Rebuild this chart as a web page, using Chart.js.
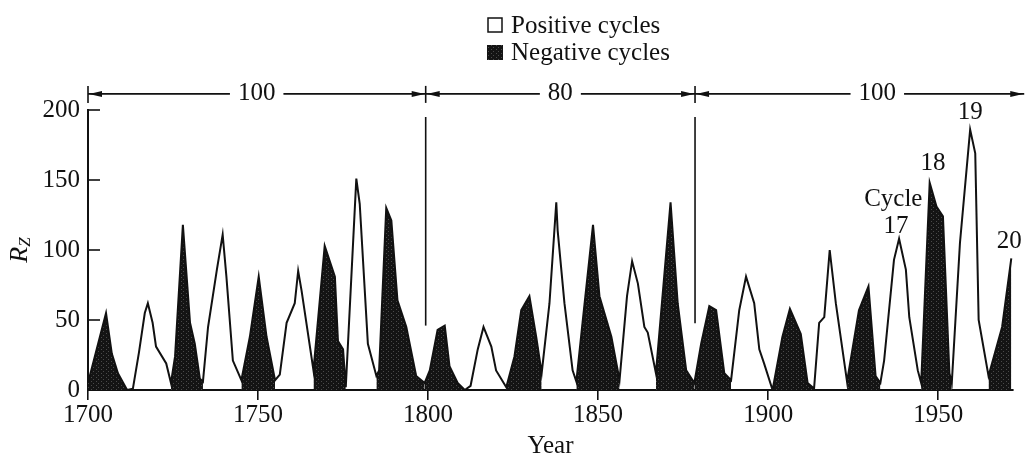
<!DOCTYPE html>
<html>
<head>
<meta charset="utf-8">
<script src="https://cdn.jsdelivr.net/npm/chart.js@4.4.1/dist/chart.umd.min.js"></script>
<style>
  html, body { margin: 0; padding: 0; background: #fff; }
  #wrap { position: relative; width: 1030px; height: 461px; }
</style>
</head>
<body>
<div id="wrap"><canvas id="rzChart"></canvas></div>
<script>
// Sunspot number Rz, traced vertex by vertex (fractional years at turning points)
const years = [
  1700, 1705.3, 1707, 1708.8, 1711.5, 1713.2, 1715, 1716.7, 1717.6, 1719, 1720, 1723,
  1724.4, 1725.6, 1727.9, 1730, 1731.4, 1732.9, 1733.8, 1735.3, 1737.9, 1739.6, 1740.7,
  1742.6, 1745.1, 1747.6, 1750.2, 1752.5, 1755, 1756.4, 1758.4, 1760.8, 1761.8, 1762.8,
  1766.3, 1769.6, 1772.6, 1773.5, 1775, 1775.8, 1778.9, 1779.9, 1782.3, 1784.8, 1785.6,
  1787.7, 1789.2, 1791, 1793.6, 1796.5, 1799, 1800.5, 1802.8, 1804.9, 1806.3, 1808.7,
  1810.8, 1812.5, 1814.6, 1816.3, 1818.6, 1820, 1823, 1825.4, 1827.4, 1829.8, 1831.8,
  1833.4, 1835.7, 1837.7, 1838.1, 1840.1, 1842.5, 1843.6, 1845.5, 1848.5, 1850.4, 1853.9,
  1856.3, 1858.5, 1860, 1861.7, 1863.6, 1864.6, 1867, 1871.3, 1873.4, 1875.9, 1878.3,
  1880.3, 1882.7, 1884.7, 1887.1, 1889.1, 1891.5, 1893.5, 1895.9, 1897.4, 1898.8, 1901.3,
  1904.2, 1906.4, 1909.6, 1911.6, 1913.5, 1915, 1916.5, 1918.1, 1919.9, 1923.2, 1926.7,
  1929.5, 1931.6, 1933, 1934.1, 1937, 1938.5, 1940.5, 1941.5, 1944, 1945, 1947.5, 1949.5,
  1951.4, 1953.3, 1954, 1956.4, 1959.4, 1960.9, 1961.9, 1964.8, 1968.8, 1971.5
];
const rz = [
  5, 55, 26, 12, 0, 1, 27, 55, 62, 48, 31, 19,
  5, 24, 118, 48, 33, 8, 6, 45, 86, 111, 81,
  21, 7, 38, 81, 38, 7, 11, 48, 62, 85, 71,
  14, 103, 81, 35, 29, 2, 151, 133, 33, 10, 14,
  130, 121, 64, 45, 10, 5, 14, 43, 46, 17, 5,
  0, 3, 29, 45, 31, 14, 2, 24, 57, 67, 38,
  12, 62, 134, 114, 62, 14, 6, 50, 118, 67, 38,
  7, 67, 92, 76, 45, 41, 12, 134, 62, 14, 5,
  33, 60, 57, 12, 7, 57, 81, 62, 29, 19, 0,
  38, 58, 40, 5, 1, 48, 52, 100, 62, 6, 57,
  74, 10, 5, 21, 93, 108, 86, 52, 14, 5, 148, 131,
  124, 12, 5, 105, 186, 169, 50, 10, 45, 94
];

// Negative (shaded) cycles, minimum to minimum
const negativeCycles = [
  [1700, 1711.5], [1724.4, 1733.8], [1745.1, 1755], [1766.3, 1775.8],
  [1784.8, 1799], [1799, 1810.8], [1823, 1833.4], [1843.6, 1856.3],
  [1867, 1878.3], [1878.3, 1889.1], [1901.3, 1913.5], [1923.2, 1933],
  [1945, 1954], [1964.8, 1971.5]
];

const xTicks = [1700, 1750, 1800, 1850, 1900, 1950];
const yTicks = [0, 50, 100, 150, 200];

// Period markers across the top: span boundaries and the span lengths
const periodBounds = [1700, 1799.3, 1878.5, 1975.3];
const periodLabels = [
  { text: '100', year: 1749.6 },
  { text: '80', year: 1838.9 },
  { text: '100', year: 1932.1 }
];
// the two inner boundaries also drop a line into the plot, down to these values
const boundaryDrop = [46, 47.6];

// Cycle numbers written beside the last peaks
const cycleNotes = [
  { text: 'Cycle', year: 1936.8, value: 136.4 },
  { text: '17', year: 1937.6, value: 117 },
  { text: '18', year: 1948.5, value: 162 },
  { text: '19', year: 1959.4, value: 198 },
  { text: '20', year: 1970.9, value: 106 }
];

const ink = '#111';
const serif = "'Liberation Serif', 'DejaVu Serif', serif";
const textSize = 25;
const canvas = document.getElementById('rzChart');

// dark stippled fill for the negative cycles
function stipple() {
  const c = document.createElement('canvas');
  c.width = 5; c.height = 4;
  const g = c.getContext('2d');
  g.fillStyle = '#141414';
  g.fillRect(0, 0, 5, 4);
  g.fillStyle = '#4a4a4a';
  g.fillRect(1, 1, 1, 1);
  g.fillRect(3, 3, 1, 1);
  return canvas.getContext('2d').createPattern(c, 'repeat');
}
const shade = stipple();

const points = years.map((yr, i) => ({ x: yr, y: rz[i] }));

const fillSets = negativeCycles.map(([a, b]) => ({
  label: 'Negative cycle ' + a,
  data: points.filter((p) => p.x >= a && p.x <= b),
  borderWidth: 0,
  backgroundColor: shade,
  fill: 'origin',
  pointRadius: 0,
  order: 2,
}));

function arrowHead(ctx, tipX, y, dir) {
  const len = 13, half = 3;
  ctx.beginPath();
  ctx.moveTo(tipX, y);
  ctx.lineTo(tipX - dir * len, y - half);
  ctx.lineTo(tipX - dir * len, y + half);
  ctx.closePath();
  ctx.fill();
}

const overlay = {
  id: 'rzOverlay',
  afterDraw(chart) {
    const { ctx } = chart;
    const x = chart.scales.x, y = chart.scales.y;
    ctx.save();
    ctx.strokeStyle = ink;
    ctx.fillStyle = ink;
    ctx.lineWidth = 1.6;
    ctx.font = textSize + 'px ' + serif;
    ctx.textBaseline = 'middle';
    ctx.textAlign = 'center';

    // period spans with arrows
    const ay = y.getPixelForValue(211.5);
    periodLabels.forEach((lab, i) => {
      const x0 = x.getPixelForValue(periodBounds[i]);
      const x1 = x.getPixelForValue(periodBounds[i + 1]);
      const lx = x.getPixelForValue(lab.year);
      const w = ctx.measureText(lab.text).width;
      ctx.beginPath();
      ctx.moveTo(x0, ay); ctx.lineTo(lx - w / 2 - 8, ay);
      ctx.moveTo(lx + w / 2 + 8, ay); ctx.lineTo(x1, ay);
      ctx.stroke();
      arrowHead(ctx, x0 + 1, ay, -1);
      arrowHead(ctx, x1 - 1, ay, 1);
      ctx.fillText(lab.text, lx, ay);
    });
    periodBounds.slice(0, 3).forEach((b) => {
      const bx = x.getPixelForValue(b);
      ctx.beginPath();
      ctx.moveTo(bx, ay - 8); ctx.lineTo(bx, ay + 9);
      ctx.stroke();
    });
    boundaryDrop.forEach((v, i) => {
      const bx = x.getPixelForValue(periodBounds[i + 1]);
      ctx.beginPath();
      ctx.moveTo(bx, y.getPixelForValue(195));
      ctx.lineTo(bx, y.getPixelForValue(v));
      ctx.stroke();
    });

    // cycle numbers
    cycleNotes.forEach((n) => {
      ctx.fillText(n.text, x.getPixelForValue(n.year), y.getPixelForValue(n.value));
    });

    // inward ticks on the Rz axis
    yTicks.slice(1).forEach((v) => {
      const py = y.getPixelForValue(v);
      ctx.beginPath();
      ctx.moveTo(x.left, py); ctx.lineTo(x.left + 12, py);
      ctx.stroke();
    });

    // axis title Rz, rotated, with subscript
    ctx.save();
    ctx.translate(20, (y.top + y.bottom) / 2);
    ctx.rotate(-Math.PI / 2);
    ctx.textAlign = 'left';
    ctx.font = 'italic 26px ' + serif;
    const wR = ctx.measureText('R').width;
    ctx.font = 'italic 17px ' + serif;
    const wZ = ctx.measureText('Z').width;
    const sx = -(wR + wZ) / 2;
    ctx.font = 'italic 26px ' + serif;
    ctx.fillText('R', sx, 0);
    ctx.font = 'italic 17px ' + serif;
    ctx.fillText('Z', sx + wR, 6);
    ctx.restore();

    // legend
    ctx.textAlign = 'left';
    ctx.font = textSize + 'px ' + serif;
    ctx.lineWidth = 1.5;
    ctx.fillStyle = '#fff';
    ctx.fillRect(488, 18, 14, 14);
    ctx.strokeRect(488, 18, 14, 14);
    ctx.fillStyle = shade;
    ctx.fillRect(487, 45, 16, 15);
    ctx.fillStyle = ink;
    ctx.fillText('Positive cycles', 511, 26);
    ctx.fillText('Negative cycles', 511, 53);
    ctx.restore();
  },
};

new Chart(canvas, {
  type: 'line',
  data: {
    datasets: [
      {
        label: 'Rz',
        data: points,
        borderColor: ink,
        borderWidth: 2,
        fill: false,
        pointRadius: 0,
        tension: 0,
        order: 1,
      },
      ...fillSets,
    ],
  },
  plugins: [overlay],
  options: {
    responsive: true,
    maintainAspectRatio: false,
    animation: false,
    layout: { padding: { top: 110, right: 17, left: 0, bottom: 0 } },
    plugins: { legend: { display: false }, tooltip: { enabled: false } },
    scales: {
      x: {
        type: 'linear',
        min: 1700,
        max: 1972,
        afterBuildTicks: (s) => { s.ticks = xTicks.map((v) => ({ value: v })); },
        afterFit: (s) => { s.height = 71; },
        grid: { display: true, drawOnChartArea: false, drawTicks: true, tickLength: 10, color: ink, lineWidth: 1.6 },
        border: { display: true, color: ink, width: 2 },
        ticks: {
          color: ink,
          font: { family: serif, size: textSize },
          padding: 0,
          maxRotation: 0,
          autoSkip: false,
          callback: (v) => String(v),
        },
        title: { display: true, text: 'Year', color: ink, font: { family: serif, size: textSize }, padding: { top: 0, bottom: 0 } },
      },
      y: {
        min: 0,
        max: 200,
        afterBuildTicks: (s) => { s.ticks = yTicks.map((v) => ({ value: v })); },
        afterFit: (s) => { s.width = 88; },
        grid: { display: false, drawTicks: false },
        border: { display: true, color: ink, width: 2 },
        ticks: { color: ink, font: { family: serif, size: textSize }, padding: 8 },
      },
    },
  },
});
</script>
</body>
</html>
